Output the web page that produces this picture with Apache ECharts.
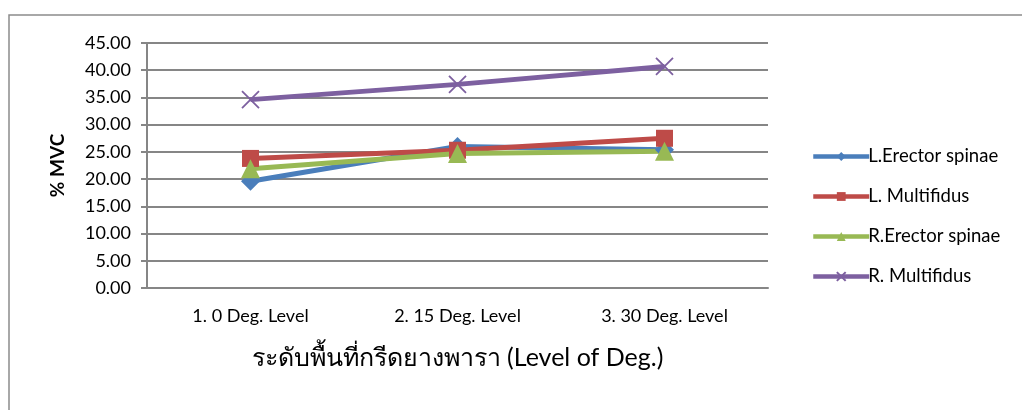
<!DOCTYPE html>
<html>
<head>
<meta charset="utf-8">
<script src="https://cdn.jsdelivr.net/npm/echarts@6/dist/echarts.min.js"></script>
<style>
  html, body { margin: 0; padding: 0; background: #fff; }
  #chart { width: 1022px; height: 410px; }
</style>
</head>
<body>
<div id="chart"></div>
<script>
// Muscle activation (% MVC) by rubber-tapping terrain slope
const categories = ['1. 0 Deg. Level', '2. 15 Deg. Level', '3. 30 Deg. Level'];
const lErectorSpinae = [19.6, 26.0, 25.4];
const lMultifidus = [23.8, 25.3, 27.5];
const rErectorSpinae = [21.9, 24.7, 25.1];
const rMultifidus = [34.6, 37.4, 40.7];
const yTicks = { min: 0, max: 45, interval: 5 };

const FONT = 'Lato, "Open Sans", "Noto Sans", sans-serif';
const crossPath = 'path://M0,0L10,10M10,0L0,10';

function lineSeries(name, data, color, symbol, size, extra) {
  return Object.assign({
    name: name,
    type: 'line',
    data: data,
    symbol: symbol,
    symbolSize: size,
    lineStyle: { color: color, width: 5 },
    itemStyle: { color: color },
    emphasis: { disabled: true }
  }, extra || {});
}

const chart = echarts.init(document.getElementById('chart'), null, { renderer: 'canvas' });
chart.setOption({
  animation: false,
  backgroundColor: '#ffffff',
  graphic: [{
    type: 'rect',
    shape: { x: 9, y: 15, width: 1200, height: 600 },
    style: { fill: 'none', stroke: '#8c8c8c', lineWidth: 1.5 },
    silent: true,
    z: -10
  }],
  grid: { left: 147, top: 43, right: 254, bottom: 122 },
  legend: {
    orient: 'vertical',
    left: 806,
    top: 142,
    itemGap: 21,
    itemWidth: 56,
    itemHeight: 11,
    lineStyle: { width: 4.5 },
    textStyle: { fontFamily: FONT, fontSize: 18.5, color: '#000', padding: [0, 0, 0, -6] },
    data: ['L.Erector spinae', 'L. Multifidus', 'R.Erector spinae', 'R. Multifidus']
  },
  xAxis: {
    type: 'category',
    data: categories,
    boundaryGap: true,
    axisLine: { show: true, lineStyle: { color: '#868686', width: 2 } },
    axisTick: { show: false },
    axisLabel: { fontFamily: FONT, fontSize: 18, color: '#000', margin: 19 },
    name: 'ระดับพื้นที่กรีดยางพารา (Level of Deg.)',
    nameLocation: 'middle',
    nameGap: 57,
    nameTextStyle: { fontFamily: FONT, fontSize: 25, color: '#000' }
  },
  yAxis: {
    type: 'value',
    min: yTicks.min,
    max: yTicks.max,
    interval: yTicks.interval,
    axisLine: { show: true, lineStyle: { color: '#868686', width: 2 } },
    axisTick: { show: true, inside: false, length: 6, lineStyle: { color: '#868686', width: 2 } },
    axisLabel: {
      fontFamily: FONT, fontSize: 18, color: '#000', margin: 16,
      formatter: v => v.toFixed(2)
    },
    splitLine: { show: true, lineStyle: { color: '#868686', width: 2 } },
    name: '% MVC',
    nameLocation: 'middle',
    nameGap: 80,
    nameRotate: 90,
    nameTextStyle: { fontFamily: FONT, fontSize: 19, fontWeight: 'bold', color: '#000' }
  },
  series: [
    lineSeries('L.Erector spinae', lErectorSpinae, '#4a7ebb', 'diamond', 19),
    lineSeries('L. Multifidus', lMultifidus, '#be4b48', 'rect', 17),
    lineSeries('R.Erector spinae', rErectorSpinae, '#98b954', 'triangle', 19),
    lineSeries('R. Multifidus', rMultifidus, '#7d60a0', crossPath, 17, {
      itemStyle: { color: 'none', borderColor: '#7d60a0', borderWidth: 1.8 }
    })
  ]
});
</script>
</body>
</html>
